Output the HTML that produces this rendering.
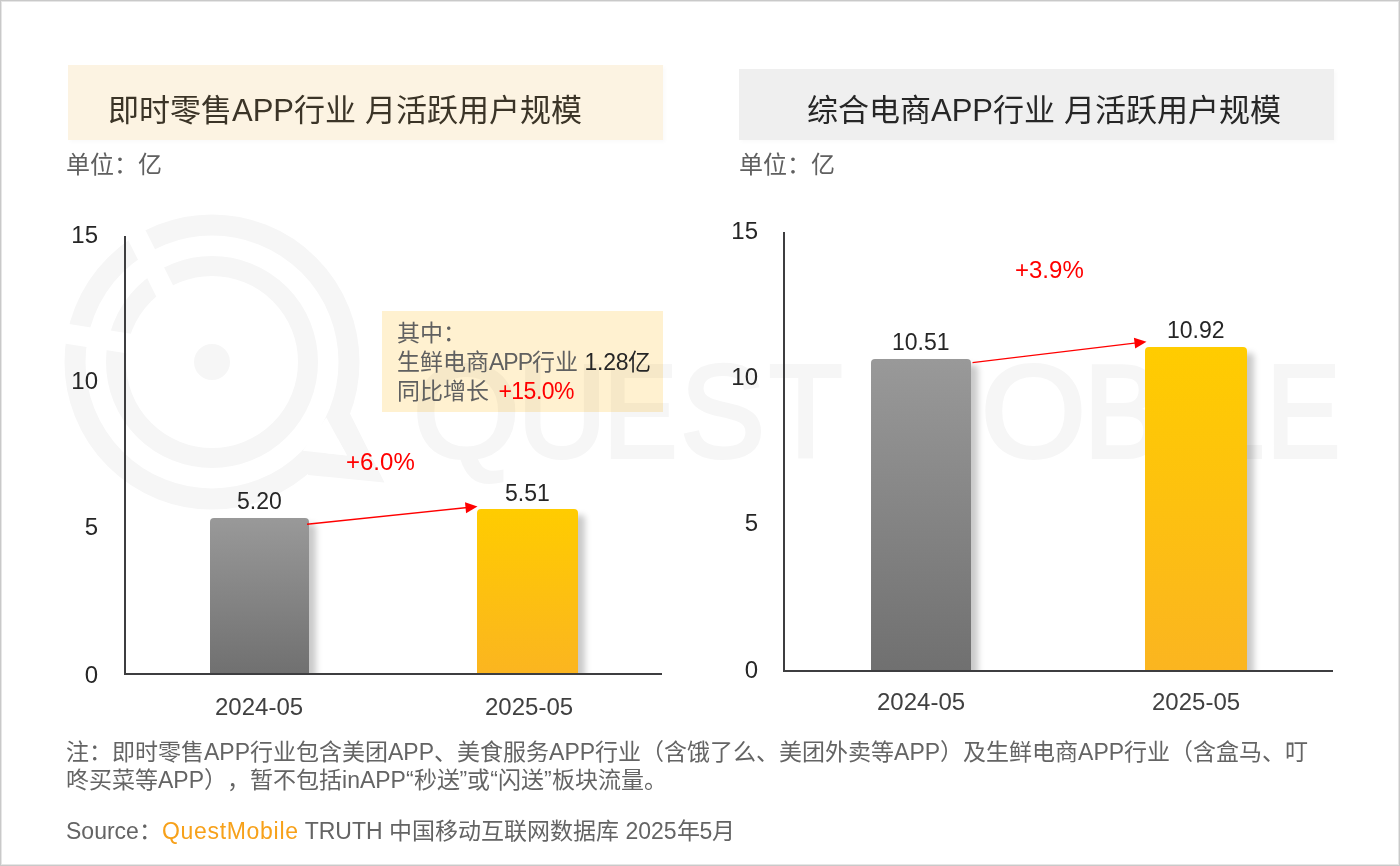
<!DOCTYPE html>
<html lang="zh-CN">
<head>
<meta charset="utf-8">
<style>
html,body{margin:0;padding:0;}
body{text-spacing-trim:space-all;width:1400px;height:866px;position:relative;overflow:hidden;background:#fff;font-family:"Liberation Sans",sans-serif;}
.frame{position:absolute;left:0;top:0;width:1400px;height:866px;box-sizing:border-box;border:1px solid #c9c9c9;box-shadow:inset 0 0 0 1px #e6e6e6;z-index:50;pointer-events:none;}
.abs{position:absolute;white-space:nowrap;line-height:1;will-change:transform;}
.tbox{position:absolute;}
.ttl{box-shadow:2px 2px 4px rgba(0,0,0,0.025);}
.title{font-size:31px;color:#3b3427;}
.unit{font-size:24px;color:#606060;}
.tick{font-size:24px;color:#262626;text-align:right;}
.cat{font-size:24px;color:#404040;}
.val{font-size:23px;color:#262626;}
.pct{font-size:24px;color:#ff0000;}
.axis{position:absolute;background:#3e3e40;z-index:3;}
.bar{position:absolute;border-radius:4px 4px 0 0;box-shadow:7px 6px 6px 0 rgba(0,0,0,0.21);clip-path:inset(-20px -30px 0 -20px);}
.gray{background:linear-gradient(#999999,#707070);}
.yel{background:linear-gradient(#ffcc00,#fbb520);}
.co{font-size:23px;color:#606060;}
.ap{letter-spacing:-1px;}
.note{font-size:23px;color:#646464;}
</style>
</head>
<body>
<div class="frame"></div>

<!-- watermark -->
<svg class="abs" style="left:0;top:0;z-index:0" width="1400" height="866" viewBox="0 0 1400 866">
 <g opacity="0.037">
  <g fill="none" stroke="#000">
    <circle cx="212" cy="362" r="137" stroke-width="21"/>
    <circle cx="212" cy="362" r="96" stroke-width="20"/>
  </g>
  <circle cx="212" cy="362" r="18" fill="#000"/>
  <polygon points="349.8,413.3 384.5,482.6 308.2,475 302.7,450.7 347,455.6 326.3,417.4" fill="#000"/>
  <polygon points="326.3,417.4 347,455.6 302.7,450.7" fill="#fff"/>
  <g stroke="#fff" stroke-width="20" fill="none">
    <line x1="115.5" y1="192.5" x2="173.6" y2="308.7"/>
    <line x1="48.4" y1="330.8" x2="137.3" y2="344.9"/>
  </g>
  <g font-family="Liberation Sans" font-size="132" fill="#000" stroke="#000" stroke-width="4">
    <text transform="translate(412.8,457) scale(1.043,1)" x="0" y="0">Q</text>
    <text transform="translate(517.5,457) scale(0.936,1)" x="0" y="0">U</text>
    <text transform="translate(603.5,457) scale(0.838,1)" x="0" y="0">E</text>
    <text transform="translate(680.2,457) scale(0.962,1)" x="0" y="0">S</text>
    <text transform="translate(769.1,457) scale(0.91,1)" x="0" y="0">T</text>
    <text transform="translate(863.6,457) scale(1.044,1)" x="0" y="0">M</text>
    <text transform="translate(980.9,457) scale(1.022,1)" x="0" y="0">O</text>
    <text transform="translate(1084.0,457) scale(0.89,1)" x="0" y="0">B</text>
    <text transform="translate(1158.7,457) scale(1.133,1)" x="0" y="0">I</text>
    <text transform="translate(1191.0,457) scale(1.0,1)" x="0" y="0">L</text>
    <text transform="translate(1266.5,457) scale(0.838,1)" x="0" y="0">E</text>
  </g>
 </g>
</svg>

<!-- titles -->
<div class="tbox ttl" style="left:68px;top:65px;width:595px;height:75px;background:#fcf3e2;"></div>
<div class="abs title" style="left:108px;top:95px;">即时零售APP行业 月活跃用户规模</div>
<div class="tbox ttl" style="left:739px;top:69px;width:595px;height:71px;background:#efefef;"></div>
<div class="abs title" style="left:807px;top:95px;color:#262626;">综合电商APP行业 月活跃用户规模</div>

<div class="abs unit" style="left:66px;top:153px;">单位：亿</div>
<div class="abs unit" style="left:739px;top:153px;">单位：亿</div>

<!-- left chart -->
<div class="axis" style="left:124px;top:236px;width:2px;height:439px;"></div>
<div class="axis" style="left:124px;top:673px;width:538px;height:2px;"></div>
<div class="abs tick" style="left:60px;top:223px;width:38px;">15</div>
<div class="abs tick" style="left:60px;top:369px;width:38px;">10</div>
<div class="abs tick" style="left:60px;top:515px;width:38px;">5</div>
<div class="abs tick" style="left:60px;top:663px;width:38px;">0</div>

<div class="bar gray" style="left:210px;top:518px;width:99px;height:156px;"></div>
<div class="bar yel" style="left:477px;top:509px;width:101px;height:165px;"></div>
<div class="abs val" style="left:237px;top:490px;">5.20</div>
<div class="abs val" style="left:505px;top:482px;">5.51</div>
<div class="abs pct" style="left:346px;top:450px;">+6.0%</div>
<div class="abs cat" style="left:215px;top:695px;">2024-05</div>
<div class="abs cat" style="left:485px;top:695px;">2025-05</div>

<!-- callout -->
<div class="tbox" style="left:382px;top:311px;width:281px;height:101px;background:#fff1d0;z-index:-1;"></div>
<div class="abs co" style="left:397px;top:322px;">其中：</div>
<div class="abs co" style="left:397px;top:351px;">生鲜电商<span class="ap">APP</span>行业 <span style="color:#262626;letter-spacing:-0.2px">1.28</span><span style="color:#262626">亿</span></div>
<div class="abs co" style="left:397px;top:380px;">同比增长 <span style="color:#ff0000;letter-spacing:-0.5px;margin-left:3px">+15.0%</span></div>

<!-- right chart -->
<div class="axis" style="left:783px;top:232px;width:2px;height:440px;"></div>
<div class="axis" style="left:783px;top:670px;width:550px;height:2px;"></div>
<div class="abs tick" style="left:720px;top:219px;width:38px;">15</div>
<div class="abs tick" style="left:720px;top:365px;width:38px;">10</div>
<div class="abs tick" style="left:720px;top:511px;width:38px;">5</div>
<div class="abs tick" style="left:720px;top:658px;width:38px;">0</div>

<div class="bar gray" style="left:871px;top:359px;width:100px;height:312px;"></div>
<div class="bar yel" style="left:1145px;top:347px;width:102px;height:324px;"></div>
<div class="abs val" style="left:892px;top:331px;">10.51</div>
<div class="abs val" style="left:1167px;top:319px;">10.92</div>
<div class="abs pct" style="left:1015px;top:258px;">+3.9%</div>
<div class="abs cat" style="left:877px;top:690px;">2024-05</div>
<div class="abs cat" style="left:1152px;top:690px;">2025-05</div>

<!-- arrows -->
<svg class="abs" style="left:0;top:0;z-index:5" width="1400" height="866" viewBox="0 0 1400 866">
  <line x1="307" y1="524.2" x2="467.6" y2="507.5" stroke="#ff0000" stroke-width="1.4"/>
  <polygon points="477.5,506.5 466.1,513.2 465.0,502.3" fill="#ff0000"/>
  <line x1="972.5" y1="362.6" x2="1136.6" y2="342.9" stroke="#ff0000" stroke-width="1.4"/>
  <polygon points="1146.5,341.7 1135.2,348.6 1133.9,337.7" fill="#ff0000"/>
</svg>

<!-- notes -->
<div class="abs note" style="left:66px;top:741px;">注：即时零售APP行业包含美团APP、美食服务APP行业（含饿了么、美团外卖等APP）及生鲜电商APP行业（含盒马、叮</div>
<div class="abs note" style="left:66px;top:769px;">咚买菜等APP），暂不包括inAPP“秒送”或“闪送”板块流量。</div>
<div class="abs note" style="left:66px;top:820px;">Source：<span style="color:#f7a11a;letter-spacing:0.7px">QuestMobile</span> TRUTH 中国移动互联网数据库 2025年5月</div>

</body>
</html>
